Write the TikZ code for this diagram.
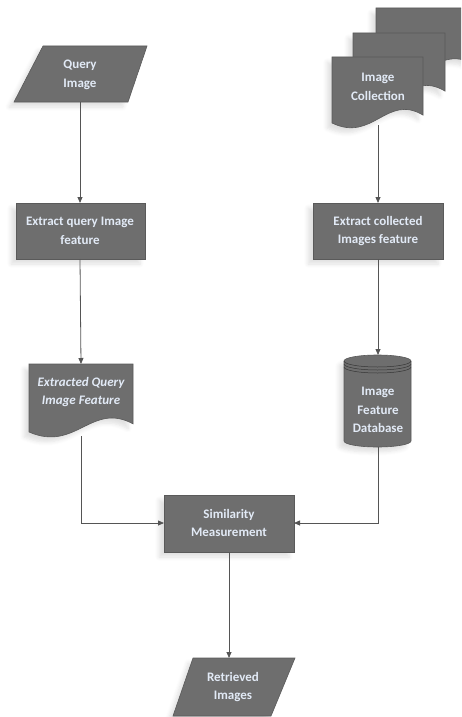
\documentclass[tikz,border=0pt]{standalone}
\usepackage{fontspec}
\setmainfont{Carlito}
\usetikzlibrary{arrows.meta,shadows.blur}
\definecolor{boxfill}{HTML}{6E6E6E}
\definecolor{boxline}{HTML}{5A5A5A}
\definecolor{txt}{HTML}{E2EAF6}
\definecolor{conn}{HTML}{555555}
\tikzset{
  shapefill/.style={fill=boxfill, draw=boxline, line width=0.6pt,
    blur shadow={shadow xshift=-5pt, shadow yshift=-5pt, shadow opacity=12, shadow blur steps=6, shadow blur radius=4pt}},
  lbl/.style={text=txt, font=\fontsize{13}{18.5}\selectfont\bfseries, align=center, inner sep=0pt},
  conn/.style={draw=conn, line width=0.8pt, -{Triangle[length=6pt,width=5pt]}},
}
\newcommand{\docshape}[4]{% left, top, right, height
  \path[shapefill] (#1,#2) -- (#3,#2) -- (#3,#2+0.88*#4)
    .. controls ({#1+0.6*(#3-#1)},{#2+0.55*#4}) and ({#1+0.45*(#3-#1)},{#2+1.3*#4}) .. (#1,#2+#4) -- cycle;}
\begin{document}
\begin{tikzpicture}[x=1pt,y=-1pt]
\useasboundingbox (0,0) rectangle (461,717);
% Query image
\path[shapefill] (43,46) -- (147,46) -- (128,102) -- (14,102) -- cycle;
\node[lbl] (qimg) at (80,75) {Query\\Image};
\coordinate (qimgB) at (80,102);
% Image collection (stack)
\begin{scope}
\clip (0,0) rectangle (461,717);
\docshape{376}{8}{475}{64}
\end{scope}
\docshape{353}{33}{445}{66}
\docshape{332}{57}{423}{66}
\node[lbl] (coll) at (378,87) {Image\\Collection};
\coordinate (collB) at (378,125);
% Extract query
\path[shapefill] (16,203) rectangle (145,259);
\node[lbl] (exq) at (80,231) {Extract query Image\\feature};
\coordinate (exqT) at (80,203);
\coordinate (exqB) at (80,259);
% Extract collected
\path[shapefill] (313,203) rectangle (443,259);
\node[lbl] (exc) at (378,231) {Extract collected\\Images feature};
\coordinate (excT) at (378,203);
\coordinate (excB) at (378,259);
% Extracted Query Image Feature doc
\docshape{29}{364}{133}{68}
\node[lbl, font=\fontsize{13}{18.5}\selectfont\bfseries\itshape] (eqf) at (81,392) {Extracted Query\\Image Feature};
\coordinate (eqfT) at (81,364);
\coordinate (eqfB) at (81,436);
% Database cylinder
\path[shapefill] (344,361) -- (344,441) arc[start angle=180,end angle=0,x radius=33.5,y radius=6] -- (411,361) arc[start angle=0,end angle=-180,x radius=33.5,y radius=6] -- cycle;
\draw[boxline!60!black, line width=0.5pt] (344,361) arc[start angle=180,end angle=0,x radius=33.5,y radius=6];
\draw[boxline!60!black, line width=0.5pt] (344,364) arc[start angle=180,end angle=0,x radius=33.5,y radius=6];
\draw[boxline!60!black, line width=0.5pt] (344,367) arc[start angle=180,end angle=0,x radius=33.5,y radius=6];
\node[lbl] (db) at (378,410) {Image\\Feature\\Database};
\coordinate (dbT) at (378,355);
\coordinate (dbB) at (378,447);
% Similarity
\path[shapefill] (164,495) rectangle (294,552);
\node[lbl] (sim) at (229,523) {Similarity\\Measurement};
\coordinate (simL) at (164,523);
\coordinate (simR) at (294,523);
\coordinate (simB) at (229,552);
% Retrieved
\path[shapefill] (193,658) -- (295,658) -- (271,716) -- (173,716) -- cycle;
\node[lbl] (ret) at (233,687) {Retrieved\\Images};
\coordinate (retT) at (229,658);
% connectors
\draw[conn] (qimgB) -- (exqT);
\draw[conn] (exqB) -- (eqfT);
\draw[conn] (eqfB) |- (simL);
\draw[conn] (collB) -- (excT);
\draw[conn] (excB) -- (dbT);
\draw[conn] (dbB) |- (simR);
\draw[conn] (simB) -- (retT);
\end{tikzpicture}
\end{document}
